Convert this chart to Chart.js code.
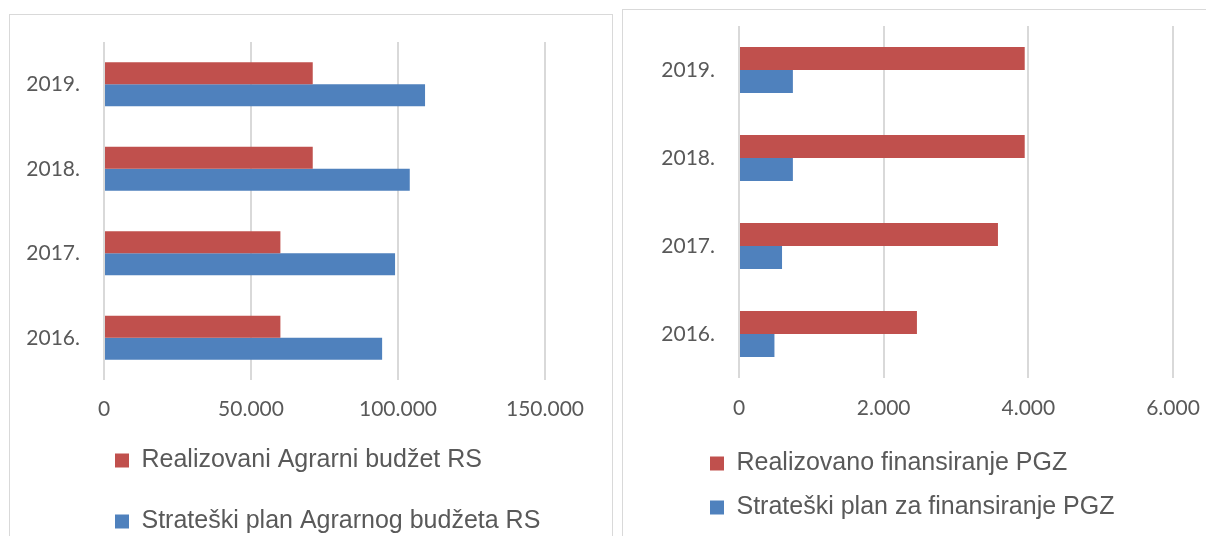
<!DOCTYPE html>
<html>
<head>
<meta charset="utf-8">
<script src="https://cdn.jsdelivr.net/npm/chart.js@4"></script>
<style>
  html, body { margin: 0; padding: 0; background: #fff; }
  body { width: 1206px; height: 536px; overflow: hidden; position: relative; }
  .panel { position: absolute; border: 1px solid #d9d9d9; background: #fff; }
  #leftPanel { left: 9px; top: 14px; width: 602px; height: 560px; }
  #rightPanel { left: 622px; top: 9px; width: 600px; height: 560px; }
  canvas { display: block; }
</style>
</head>
<body>
<div class="panel" id="leftPanel"><canvas id="agrarChart" width="602" height="560"></canvas></div>
<div class="panel" id="rightPanel"><canvas id="pgzChart" width="600" height="520"></canvas></div>
<script>
// categories (bottom to top)
const years = ['2016.', '2017.', '2018.', '2019.'];

// left chart: Agrarni budžet RS
const agrarRealizovano = [60000, 60000, 71000, 71000];
const agrarPlan = [94600, 99000, 104000, 109200];
const agrarTicks = [0, 50000, 100000, 150000];

// right chart: finansiranje PGZ
const pgzRealizovano = [2460, 3580, 3950, 3950];
const pgzPlan = [490, 595, 745, 745];
const pgzTicks = [0, 2000, 4000, 6000];

const RED = '#C0504D';
const BLUE = '#4F81BD';
const TEXT = '#595959';
const GRID = '#d9d9d9';

function formatThousands(v) {
    return String(v).replace(/\B(?=(\d{3})+(?!\d))/g, '.');
}

// moves the legend box after layout so it can sit left-aligned under the plot
const legendOffset = {
    id: 'legendOffset',
    afterLayout(chart, args, opts) {
        const lg = chart.legend;
        lg.left += opts.dx; lg.right += opts.dx;
        lg.top += opts.dy; lg.bottom += opts.dy;
    }
};

function draw_bar_chart(canvasId, labelRed, dataRed, labelBlue, dataBlue, ticks, geo) {
    var canvas = document.getElementById(canvasId);
    var chartData = {
        labels: years,
        datasets: [{
            label: labelRed,
            backgroundColor: RED,
            data: dataRed
        }, {
            label: labelBlue,
            backgroundColor: BLUE,
            data: dataBlue
        }]
    };

    var options = {
        indexAxis: 'y',
        responsive: false,
        animation: false,
        devicePixelRatio: 1,
        layout: { padding: geo.padding },
        datasets: { bar: { categoryPercentage: 0.52, barPercentage: 1.0 } },
        plugins: {
            tooltip: { enabled: false },
            legendOffset: { dx: geo.dx, dy: geo.dy },
            legend: {
                position: 'bottom',
                align: 'start',
                labels: {
                    boxWidth: 14,
                    boxHeight: 14,
                    padding: geo.legendPadding,
                    color: TEXT,
                    font: { family: '"Liberation Sans", Arial, sans-serif', size: 25 }
                }
            }
        },
        scales: {
            x: {
                min: ticks[0],
                max: ticks[ticks.length - 1],
                afterBuildTicks: function (scale) { scale.ticks = ticks.map(v => ({ value: v })); },
                afterFit: function (scale) {
                    scale.height = geo.xHeight;
                    scale.paddingLeft = 0; scale.paddingRight = 0;
                },
                border: { display: false },
                grid: { color: GRID, lineWidth: 2, drawTicks: false },
                ticks: {
                    padding: geo.xPad,
                    color: TEXT,
                    font: { family: 'Lato, sans-serif', size: 21 },
                    callback: function (value) { return formatThousands(value); }
                }
            },
            y: {
                reverse: true,
                afterFit: function (scale) {
                    scale.width = geo.yWidth;
                    scale.paddingTop = 0; scale.paddingBottom = 0;
                },
                border: { display: false },
                grid: { display: false },
                ticks: {
                    padding: 16,
                    color: TEXT,
                    font: { family: 'Lato, sans-serif', size: 21 }
                }
            }
        }
    };

    return new Chart(canvas, { type: 'bar', data: chartData, options: options, plugins: [legendOffset] });
}

draw_bar_chart('agrarChart',
    'Realizovani Agrarni budžet RS', agrarRealizovano,
    'Strateški plan Agrarnog budžeta RS', agrarPlan,
    agrarTicks,
    { padding: { left: 0, right: 67, top: 27, bottom: 0 }, legendPadding: 36,
      xHeight: 63, yWidth: 94, xPad: 17, dx: 69, dy: -31 });

draw_bar_chart('pgzChart',
    'Realizovano finansiranje PGZ', pgzRealizovano,
    'Strateški plan za finansiranje PGZ', pgzPlan,
    pgzTicks,
    { padding: { left: 0, right: 50, top: 16, bottom: 0 }, legendPadding: 19,
      xHeight: 54, yWidth: 116, xPad: 18, dx: 68, dy: 0 });
</script>
</body>
</html>
